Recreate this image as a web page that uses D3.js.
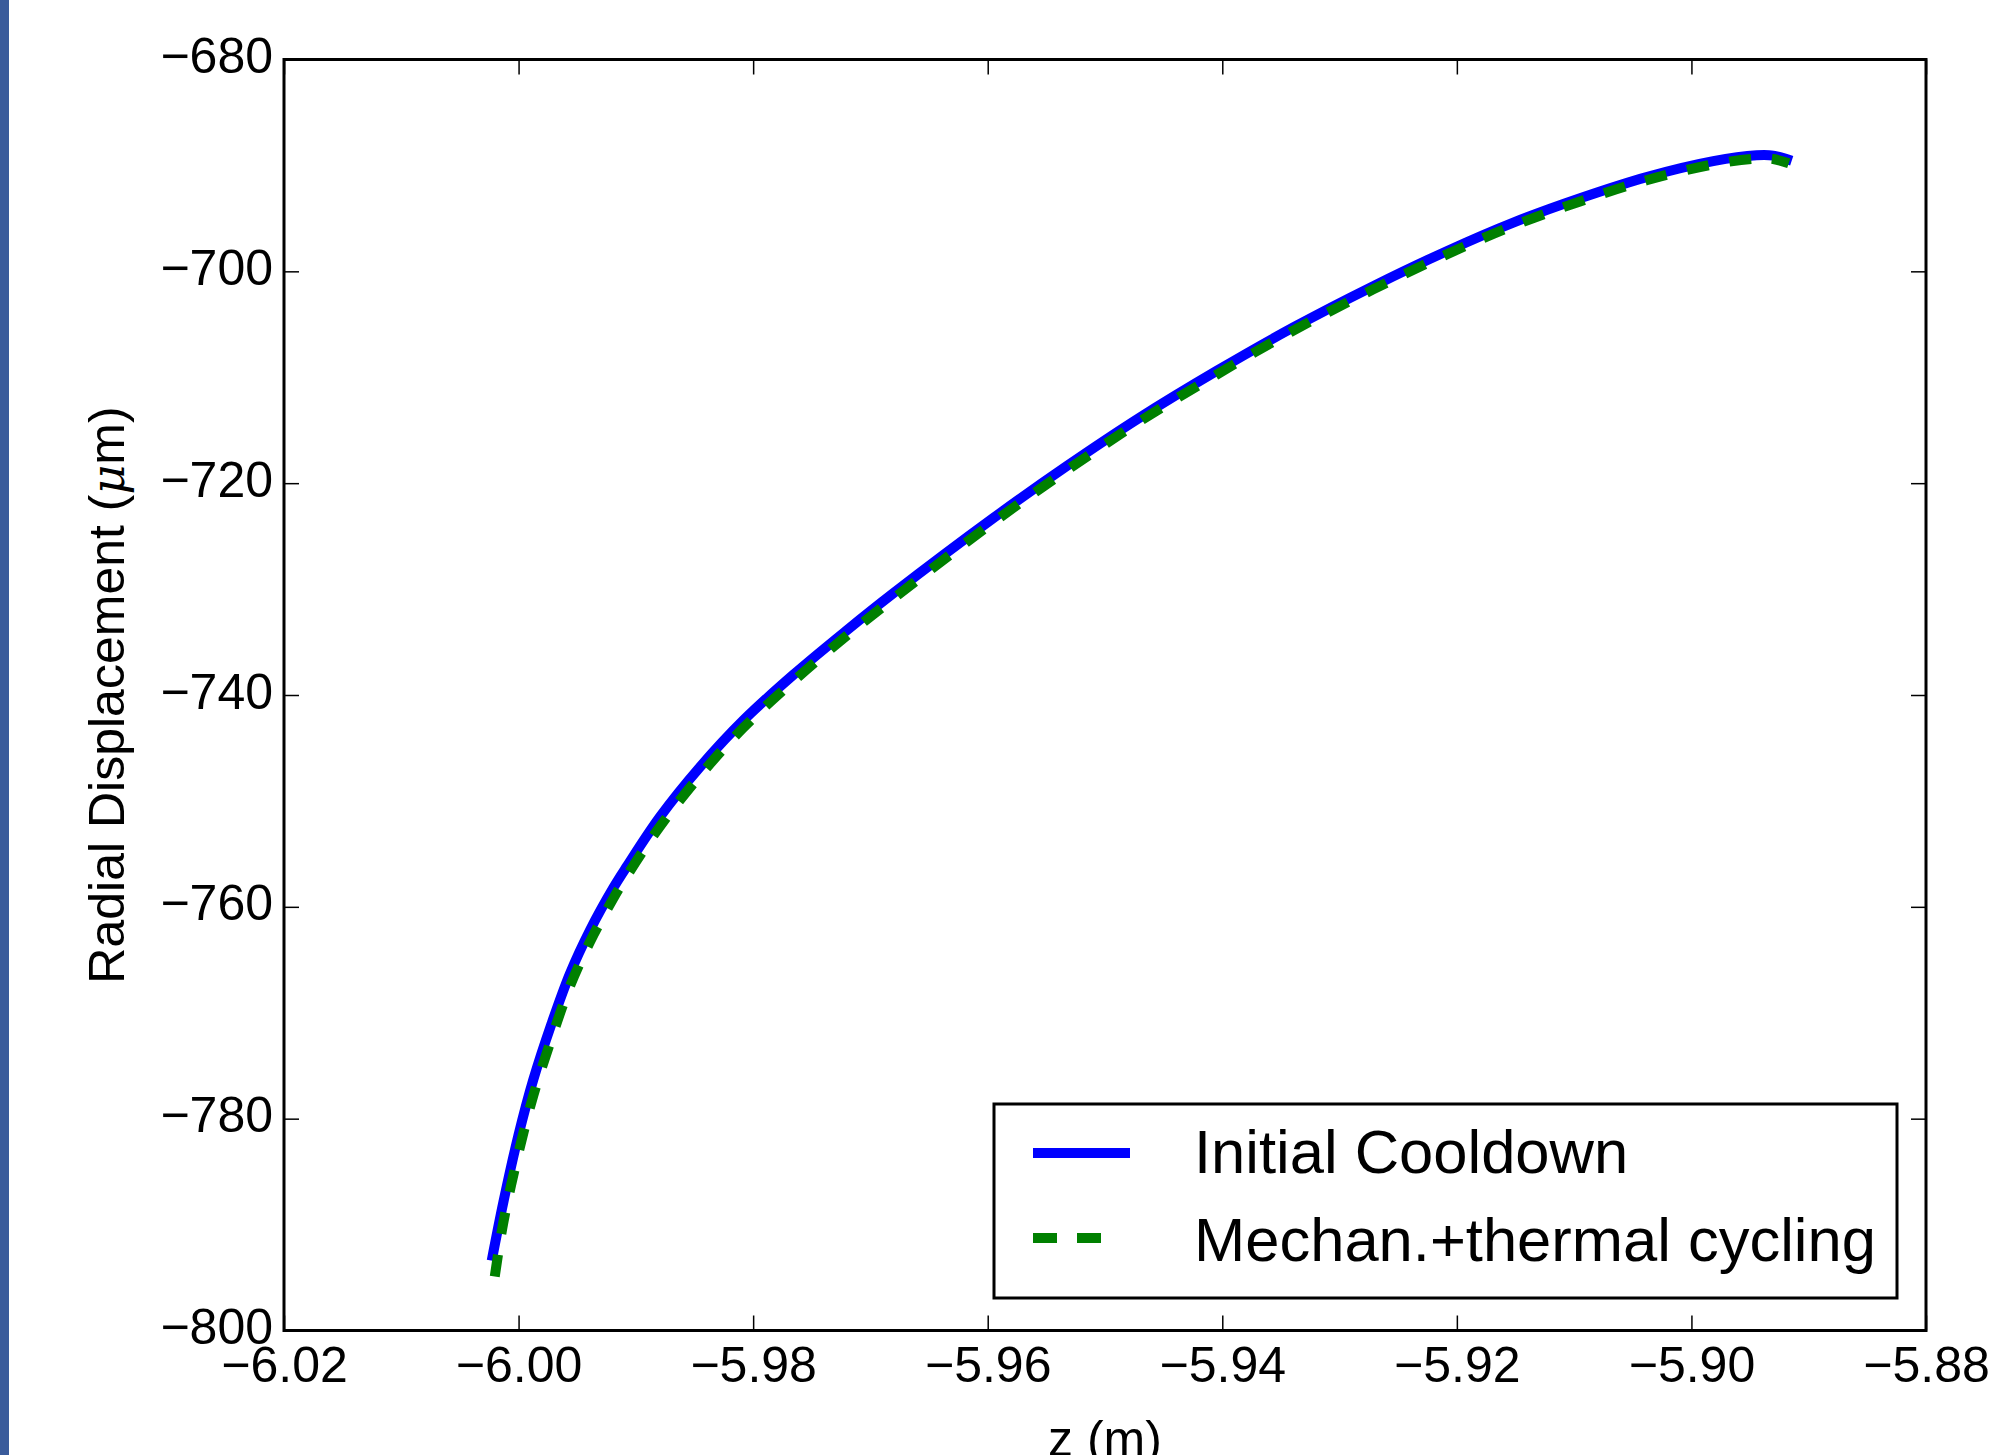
<!DOCTYPE html>
<html>
<head>
<meta charset="utf-8">
<script src="https://cdn.jsdelivr.net/npm/d3@7"></script>
<style>
  html, body { margin: 0; padding: 0; background: #ffffff; }
  svg { display: block; }
  text { font-family: "Liberation Sans", Arial, Helvetica, sans-serif; fill: #000; }
</style>
</head>
<body>
<svg id="chart" width="2004" height="1455"></svg>
<script>
// ---- data ----
const xTicks = [-6.02, -6.00, -5.98, -5.96, -5.94, -5.92, -5.90, -5.88];
const yTicks = [-680, -700, -720, -740, -760, -780, -800];

const seriesNames = ["Initial Cooldown", "Mechan.+thermal cycling"];

const cooldownZ = [-6.00229, -6.00130, -6.00002, -5.99874, -5.99718, -5.99562, -5.99391, -5.99192,
  -5.99078, -5.98794, -5.98453, -5.98084, -5.97658, -5.97202, -5.96805, -5.95953, -5.95327,
  -5.94702, -5.94048, -5.93395, -5.92713, -5.92087, -5.91519, -5.90950, -5.90382, -5.89814,
  -5.89444, -5.89302, -5.89145];
const cooldownV = [-793.4, -787.9, -781.6, -776.3, -771.0, -766.3, -762.2, -758.2,
  -756.2, -751.5, -746.8, -742.4, -738.1, -733.9, -730.4, -723.3, -718.4,
  -713.8, -709.4, -705.3, -701.4, -698.1, -695.4, -693.1, -691.1, -689.6,
  -689.05, -689.08, -689.55];

const cyclingZ = [-6.00203, -6.00130, -6.00002, -5.99874, -5.99718, -5.99562, -5.99391, -5.99192,
  -5.99078, -5.98794, -5.98453, -5.98084, -5.97658, -5.97202, -5.96805, -5.95953, -5.95327,
  -5.94702, -5.94048, -5.93395, -5.92713, -5.92087, -5.91519, -5.90950, -5.90382, -5.89814,
  -5.89444, -5.89302, -5.89170];
const cyclingV = [-794.9, -789.8, -783.3, -777.8, -772.4, -767.5, -763.3, -759.2,
  -757.1, -752.4, -747.6, -743.1, -738.7, -734.4, -730.9, -723.7, -718.8,
  -714.15, -709.75, -705.6, -701.7, -698.4, -695.7, -693.4, -691.4, -689.9,
  -689.35, -689.4, -689.8];

// ---- layout ----
const svg = d3.select("#chart");
const L = 284, R = 1926, T = 59.5, B = 1330.5;

const x = d3.scaleLinear().domain([-6.02, -5.88]).range([L, R]);
const y = d3.scaleLinear().domain([-800, -680]).range([B, T]);

const fmtX = v => d3.format(".2f")(v).replace("-", "\u2212");
const fmtY = v => d3.format("d")(v).replace("-", "\u2212");

// left decorative bar
svg.append("rect").attr("x", 0).attr("y", 0).attr("width", 9).attr("height", 1455).attr("fill", "#3a5b9b");

svg.append("defs").append("clipPath").attr("id", "clip")
  .append("rect").attr("x", L).attr("y", T).attr("width", R - L).attr("height", B - T);

const plot = svg.append("g").attr("clip-path", "url(#clip)");

const line = d3.line().x(d => x(d[0])).y(d => y(d[1])).curve(d3.curveCatmullRom.alpha(0.5));
const cooldown = cooldownZ.map((z, i) => [z, cooldownV[i]]);
const cycling = cyclingZ.map((z, i) => [z, cyclingV[i]]);

plot.append("path").datum(cooldown)
  .attr("d", line)
  .attr("fill", "none").attr("stroke", "#0000ff").attr("stroke-width", 10)
  .attr("stroke-linejoin", "round");

plot.append("path").datum(cycling)
  .attr("d", line)
  .attr("fill", "none").attr("stroke", "#008000").attr("stroke-width", 10)
  .attr("stroke-dasharray", "22,21");

// ---- axes (ticks inside, all four sides) ----
const tickLen = 15;
const axB = svg.append("g").attr("transform", `translate(0,${B})`)
  .call(d3.axisBottom(x).tickValues(xTicks).tickSizeInner(-tickLen).tickSizeOuter(0).tickFormat(fmtX));
const axT = svg.append("g").attr("transform", `translate(0,${T})`)
  .call(d3.axisTop(x).tickValues(xTicks).tickSizeInner(-tickLen).tickSizeOuter(0).tickFormat(""));
const axL = svg.append("g").attr("transform", `translate(${L},0)`)
  .call(d3.axisLeft(y).tickValues(yTicks).tickSizeInner(-tickLen).tickSizeOuter(0).tickFormat(fmtY));
const axR = svg.append("g").attr("transform", `translate(${R},0)`)
  .call(d3.axisRight(y).tickValues(yTicks).tickSizeInner(-tickLen).tickSizeOuter(0).tickFormat(""));

[axB, axT, axL, axR].forEach(g => {
  g.select(".domain").remove();
  g.selectAll(".tick line").attr("stroke", "#000").attr("stroke-width", 1.5);
});

axB.selectAll(".tick text")
  .attr("font-size", 50).attr("font-family", "Liberation Sans, Arial, sans-serif")
  .attr("y", 51).attr("dy", 0).attr("text-anchor", "middle");
axL.selectAll(".tick text")
  .attr("font-size", 50).attr("font-family", "Liberation Sans, Arial, sans-serif")
  .attr("x", -11).attr("dy", 0).attr("y", 13).attr("text-anchor", "end");

// frame
svg.append("rect").attr("x", L).attr("y", T).attr("width", R - L).attr("height", B - T)
  .attr("fill", "none").attr("stroke", "#000").attr("stroke-width", 3);

// axis labels
svg.append("text").attr("x", (L + R) / 2).attr("y", 1456)
  .attr("text-anchor", "middle").attr("font-size", 50).text("z (m)");

const yl = svg.append("text")
  .attr("transform", `translate(124,${(T + B) / 2}) rotate(-90)`)
  .attr("text-anchor", "middle").attr("font-size", 50);
yl.append("tspan").text("Radial Displacement (");
yl.append("tspan").attr("font-style", "italic").attr("font-family", "DejaVu Serif, serif").attr("font-size", 46).text("\u03bc");
yl.append("tspan").text("m)");

// ---- legend ----
const lg = svg.append("g");
lg.append("rect").attr("x", 994).attr("y", 1104).attr("width", 903).attr("height", 194)
  .attr("fill", "#fff").attr("stroke", "#000").attr("stroke-width", 3);

const legendRows = [
  { name: seriesNames[0], color: "#0000ff", dash: null, y: 1153, ty: 1173 },
  { name: seriesNames[1], color: "#008000", dash: "24,20", y: 1238, ty: 1261 }
];
legendRows.forEach(r => {
  const ln = lg.append("line").attr("x1", 1033).attr("x2", r.dash ? 1101 : 1130)
    .attr("y1", r.y).attr("y2", r.y).attr("stroke", r.color).attr("stroke-width", 10);
  if (r.dash) ln.attr("stroke-dasharray", r.dash);
  lg.append("text").attr("x", 1194).attr("y", r.ty).attr("font-size", 61.5).text(r.name);
});
</script>
</body>
</html>
